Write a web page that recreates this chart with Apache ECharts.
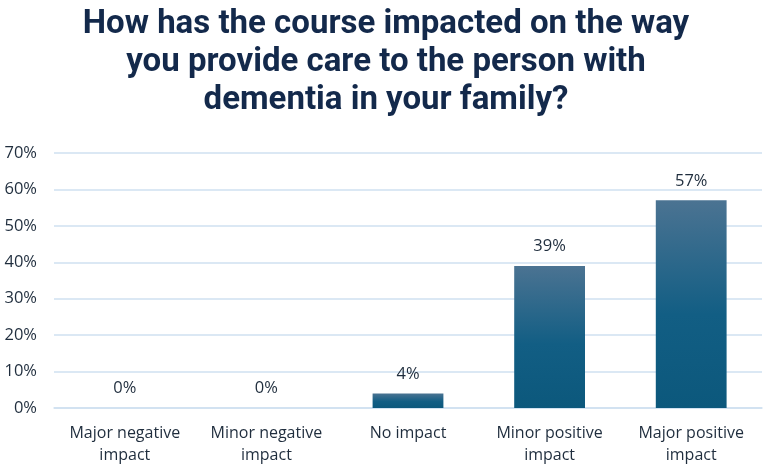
<!DOCTYPE html>
<html>
<head>
<meta charset="utf-8">
<script src="https://cdn.jsdelivr.net/npm/echarts@6/dist/echarts.min.js"></script>
<style>
  html, body { margin: 0; padding: 0; background: #fff; }
  #chart { width: 767px; height: 468px; }
</style>
</head>
<body>
<div id="chart"></div>
<script>
// data
const categories = ['Major negative\nimpact', 'Minor negative\nimpact', 'No impact', 'Minor positive\nimpact', 'Major positive\nimpact'];
const shares = [0, 0, 4, 39, 57]; // percent of respondents
const yTicks = [0, 10, 20, 30, 40, 50, 60, 70];

const myChart = echarts.init(document.getElementById('chart'));

const option = {
    title: {
        text: 'How has the course impacted on the way\nyou provide care to the person with\ndementia in your family?',
        left: 381,
        textAlign: 'center',
        top: 1,
        textStyle: {
            fontFamily: 'Roboto',
            fontWeight: 'bold',
            fontSize: 33,
            lineHeight: 38,
            color: '#13294b'
        }
    },
    grid: {
        left: 54,
        right: 5,
        top: 153,
        bottom: 60,
        containLabel: false
    },
    xAxis: {
        type: 'category',
        data: categories,
        axisLine: { show: true, lineStyle: { color: '#cfe0f0', width: 1.5 } },
        axisTick: { show: false },
        axisLabel: {
            interval: 0, // show every category
            color: '#1f2d3d',
            fontFamily: 'Open Sans',
            fontSize: 16,
            lineHeight: 22,
            margin: 14
        }
    },
    yAxis: {
        type: 'value',
        min: 0,
        max: yTicks[yTicks.length - 1],
        interval: 10,
        axisLabel: {
            formatter: '{value}%',
            color: '#1f2d3d',
            fontFamily: 'Open Sans',
            fontSize: 16.5,
            margin: 17
        },
        splitLine: { lineStyle: { color: '#cfe0f0', width: 1.5 } }
    },
    series: [
        {
            type: 'bar',
            data: shares,
            barWidth: '50%',
            itemStyle: {
                color: new echarts.graphic.LinearGradient(0, 0, 0, 1, [
                    { offset: 0, color: '#4b7392' },
                    { offset: 0.55, color: '#125e84' },
                    { offset: 1, color: '#0c587c' }
                ])
            },
            label: {
                show: true,
                position: 'top',
                distance: 11,
                formatter: '{c}%',
                color: '#1f2d3d',
                fontFamily: 'Open Sans',
                fontSize: 16.5
            }
        }
    ]
};

option && myChart.setOption(option);
</script>
</body>
</html>
